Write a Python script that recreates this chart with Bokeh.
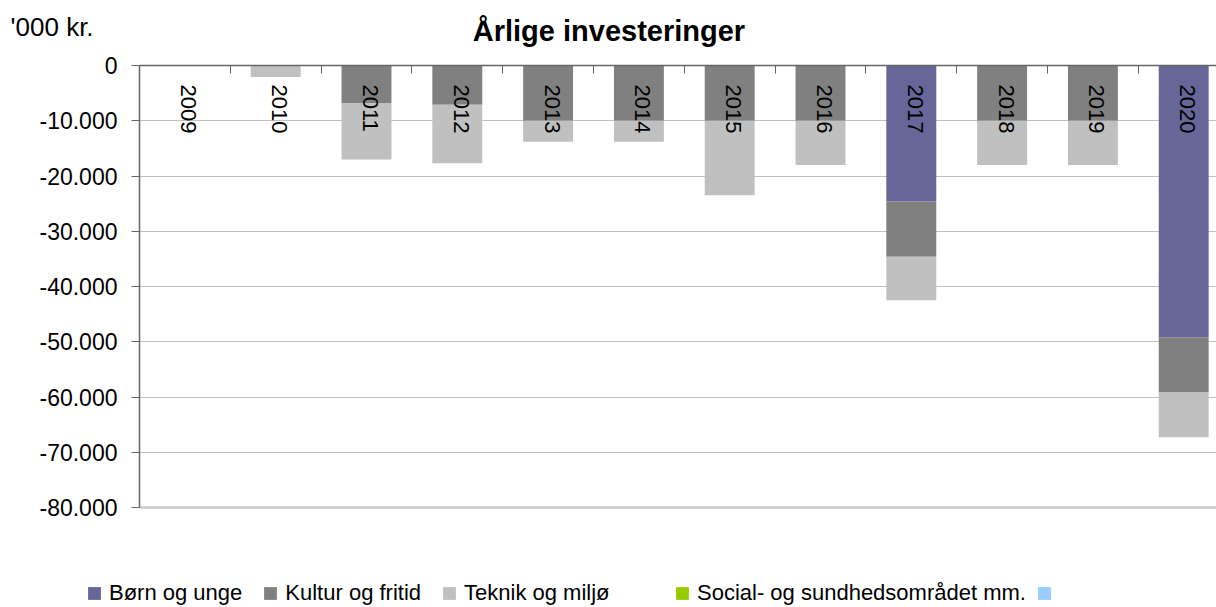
import math
from bokeh.plotting import figure
from bokeh.models import (ColumnDataSource, Range1d, FixedTicker, CustomJSTickFormatter,
                          Legend, LegendItem, Label, Grid)
from bokeh.core.properties import value
from bokeh.embed import file_html
from bokeh.resources import INLINE

# ---- data ----
years = ["2009", "2010", "2011", "2012", "2013", "2014", "2015", "2016", "2017", "2018", "2019", "2020"]
born_og_unge = [0, 0, 0, 0, 0, 0, 0, 0, -24600, 0, 0, -49200]
kultur_og_fritid = [0, 0, -6800, -7100, -10000, -10000, -10000, -10000, -10000, -10000, -10000, -10000]
teknik_og_miljo = [0, -2100, -10200, -10600, -3800, -3800, -13500, -8000, -7900, -8000, -8000, -8100]
social_og_sundhed = [0] * 12
ovrige = [0] * 12
series_names = ["Børn og unge", "Kultur og fritid", "Teknik og miljø", "Social- og sundhedsområdet mm.", ""]
series_colors = ["#666699", "#808080", "#c0c0c0", "#99cc00", "#99ccff"]
y_ticks = [0, -10000, -20000, -30000, -40000, -50000, -60000, -70000, -80000]
title_text = "Årlige investeringer"
unit_text = "'000 kr."

FONT = "Liberation Sans"
AXIS_COLOR = "#666666"
W, H = 1216, 607

# view geometry: plot area from x=139..(right edge), y=65..507 px
PX_PER_CAT = 90.8
X0 = -0.5 - 139 / PX_PER_CAT
X1 = X0 + W / PX_PER_CAT
Y_PER_PX = 80000 / 442
Y1 = 65 * Y_PER_PX
Y0 = -(H - 65) * Y_PER_PX

idx = list(range(len(years)))
keys = ["born", "kultur", "teknik", "social", "ovrige"]
source = ColumnDataSource(dict(x=idx, born=born_og_unge, kultur=kultur_og_fritid,
                               teknik=teknik_og_miljo, social=social_og_sundhed, ovrige=ovrige))

p = figure(width=W, height=H, output_backend="svg", toolbar_location=None,
           x_range=Range1d(X0, X1), y_range=Range1d(Y0, Y1),
           x_axis_location="above", min_border=0)
p.outline_line_color = None
p.background_fill_color = "white"
p.border_fill_color = "white"

# grid lines (limited to plot area)
p.xgrid.grid_line_color = None
p.ygrid.ticker = FixedTicker(ticks=y_ticks[:-1])
p.ygrid.grid_line_color = "#c0c0c0"
p.ygrid.grid_line_width = 1
p.ygrid.cross_bounds = (-0.5, X1)
bottom_grid = Grid(dimension=1, ticker=FixedTicker(ticks=[y_ticks[-1]]), cross_bounds=(-0.5, X1),
                   grid_line_color="#c8c8c8", grid_line_width=2.5)
p.add_layout(bottom_grid)

renderers = p.vbar_stack(keys, x="x", width=0.55, source=source,
                         color=series_colors, line_color=None)

# category labels (rotated, inside the plot just below zero line)
lab_src = ColumnDataSource(dict(x=idx, y=[0] * len(years), text=years))
p.text(x="x", y="y", text="text", source=lab_src, angle=-math.pi / 2,
       text_align="left", text_baseline="middle", y_offset=19, x_offset=4,
       text_font=value(FONT), text_font_size="22px", text_color="black")

# x axis at y=0 - ticks at category boundaries
xa = p.xaxis[0]
xa.fixed_location = 0
xa.bounds = (-0.5, X1)
xa.ticker = FixedTicker(ticks=[i - 0.5 for i in range(len(years) + 1)])
xa.formatter = CustomJSTickFormatter(code="return '';")
xa.major_label_text_font_size = "0px"
xa.axis_line_color = AXIS_COLOR
xa.axis_line_width = 1.5
xa.major_tick_line_color = AXIS_COLOR
xa.major_tick_in = 8
xa.major_tick_out = 0
xa.minor_tick_line_color = None

# y axis at x=-0.5
ya = p.yaxis[0]
ya.fixed_location = -0.5
ya.bounds = (y_ticks[-1], y_ticks[0])
ya.ticker = FixedTicker(ticks=y_ticks)
ya.formatter = CustomJSTickFormatter(code="""
const s = Math.abs(tick).toFixed(0).replace(/\\B(?=(\\d{3})+(?!\\d))/g, '.');
return (tick < 0 ? '-' : '') + s;
""")
ya.axis_line_color = AXIS_COLOR
ya.axis_line_width = 1.5
ya.major_tick_line_color = AXIS_COLOR
ya.major_tick_in = 0
ya.major_tick_out = 8
ya.minor_tick_line_color = None
ya.major_label_standoff = 14
ya.major_label_text_font = FONT
ya.major_label_text_font_size = "23px"
ya.major_label_text_color = "black"

# title and unit
p.add_layout(Label(x=4.67, y=6200, text=title_text, text_align="center",
                   text_baseline="alphabetic", text_font=FONT, text_font_size="29px",
                   text_font_style="bold", text_color="black"))
p.add_layout(Label(x=-1.92, y=6950, text=unit_text, text_align="left",
                   text_baseline="alphabetic", text_font=FONT, text_font_size="26px",
                   text_color="black"))

items = [LegendItem(label=n, renderers=[r]) for n, r in zip(series_names, renderers)]
common = dict(orientation="horizontal", glyph_width=16, glyph_height=16, label_standoff=7,
              padding=0, margin=0, border_line_color=None, background_fill_alpha=0,
              label_text_font=FONT, label_text_font_size="22px", label_text_color="black")
p.add_layout(Legend(items=items[:3], location=(86, 1), spacing=20, **common), "center")
p.add_layout(Legend(items=items[3:], location=(674, 1), spacing=10, **common), "center")

open("out.html", "w").write(file_html(p, INLINE))
